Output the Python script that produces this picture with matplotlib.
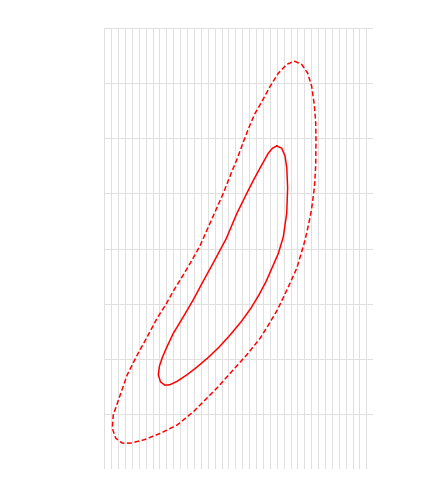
import matplotlib
matplotlib.use("Agg")
import matplotlib.pyplot as plt

# Grid domain
x_ticks = list(range(0, 40))
y_ticks = list(range(0, 9))

# Outer (dashed) contour, data coordinates
outer_x = [27.55, 28.62, 29.49, 30.07, 30.45, 30.65, 30.69, 30.65, 30.48, 30.04,
           29.61, 29.10, 28.52, 27.90, 26.56, 25.11, 23.88, 22.58, 20.65, 18.70,
           16.34, 14.75, 13.01, 10.58, 8.18, 5.76, 3.83, 2.61, 1.65, 1.16,
           1.30, 2.13, 3.33, 4.78, 6.19, 7.68, 8.95, 10.11, 11.45, 12.72,
           13.88, 15.33, 17.25, 18.47, 19.24, 20.15, 20.98, 21.85, 22.82, 24.03,
           25.23, 26.45, 27.55]
outer_y = [7.40, 7.34, 7.18, 6.94, 6.60, 6.29, 5.97, 5.51, 5.13, 4.70,
           4.43, 4.15, 3.90, 3.64, 3.27, 2.89, 2.63, 2.37, 2.07, 1.80,
           1.47, 1.27, 1.05, 0.80, 0.65, 0.53, 0.47, 0.47, 0.56, 0.74,
           0.98, 1.28, 1.71, 2.07, 2.39, 2.74, 2.99, 3.25, 3.52, 3.79,
           4.05, 4.46, 5.00, 5.39, 5.62, 5.93, 6.20, 6.45, 6.66, 6.94,
           7.18, 7.34, 7.40]

# Inner (solid) contour, data coordinates
inner_x = [25.00, 25.72, 26.20, 26.46, 26.58, 26.45, 25.95, 25.23, 24.36, 23.45,
           22.43, 21.27, 19.89, 18.30, 16.63, 15.04, 13.44, 11.99, 10.54, 9.53,
           8.80, 8.15, 7.83, 8.00, 8.44, 9.02, 10.00, 11.45, 12.90, 14.35,
           15.80, 17.68, 19.20, 20.65, 21.71, 22.58, 23.78, 24.39, 25.00]
inner_y = [5.86, 5.82, 5.68, 5.46, 5.10, 4.64, 4.21, 3.91, 3.66, 3.40,
           3.16, 2.92, 2.68, 2.44, 2.21, 2.02, 1.85, 1.71, 1.59, 1.53,
           1.52, 1.58, 1.71, 1.87, 2.03, 2.20, 2.46, 2.76, 3.07, 3.41,
           3.74, 4.18, 4.63, 5.00, 5.26, 5.46, 5.73, 5.82, 5.86]

fig = plt.figure(figsize=(6, 7), dpi=72)
ax = fig.add_axes([0.2414, 0.0694, 0.6227, 0.875])
ax.set_xlim(x_ticks[0], x_ticks[-1])
ax.set_ylim(y_ticks[0], y_ticks[-1])
ax.set_xticks(x_ticks)
ax.set_yticks(y_ticks)
ax.tick_params(length=0, labelbottom=False, labelleft=False)
for s in ax.spines.values():
    s.set_visible(False)
ax.grid(True, color="#e0e0e0", linewidth=1)
ax.set_axisbelow(True)

ax.plot(outer_x, outer_y, color="red", linewidth=1.5, linestyle=(0, (3.3, 1.7)),
        solid_joinstyle="round", dash_joinstyle="round", clip_on=False)
ax.plot(inner_x, inner_y, color="red", linewidth=1.5, solid_joinstyle="round",
        clip_on=False)

fig.savefig("out.png", dpi=72)
